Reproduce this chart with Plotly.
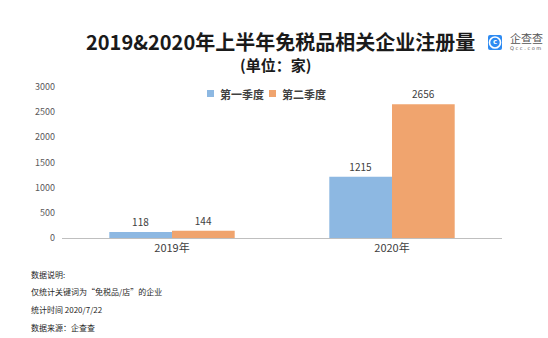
import plotly.graph_objects as go

categories = ["2019年", "2020年"]
q1_values = [118, 1215]
q2_values = [144, 2656]
series_names = ["第一季度", "第二季度"]
y_ticks = [0, 500, 1000, 1500, 2000, 2500, 3000]
notes = ["数据说明:", "仅统计关键词为“免税品/店”的企业", "统计时间 2020/7/22", "数据来源：企查查"]

BLUE = "#8DB8E2"
ORANGE = "#F0A46E"
FONT = "Noto Sans CJK SC"

# plot area in pixels
L, R, T, B = 62, 502, 87, 238


def px_x(x):
    return (x - L) / (R - L)


def px_y(y):
    return (B - y) / (B - T)


fig = go.Figure()
colors = [BLUE, ORANGE]
for name, vals, col in zip(series_names, [q1_values, q2_values], colors):
    fig.add_trace(go.Bar(
        x=categories, y=vals, name=name, marker=dict(color=col, line=dict(width=0)),
        text=[str(v) for v in vals], textposition="outside", showlegend=False,
        textfont=dict(size=10, color="#404040", family=FONT), cliponaxis=False,
    ))

fig.update_layout(
    width=548, height=338,
    margin=dict(l=L, r=548 - R, t=T, b=338 - B),
    paper_bgcolor="white", plot_bgcolor="white",
    barmode="group", bargap=0.43, bargroupgap=0,
    font=dict(family=FONT, color="#404040"),
    xaxis=dict(showline=True, linecolor="#BFBFBF", linewidth=1, ticks="",
               tickfont=dict(size=11, color="#404040", family=FONT), showgrid=False),
    yaxis=dict(range=[0, 3000], tickvals=y_ticks, showgrid=False, zeroline=False,
               showline=False, ticks="", tickfont=dict(size=9, color="#595959", family=FONT),
               ticklabelstandoff=6),
)


def label(text, x, y, size, color, xanchor="center", family=FONT):
    fig.add_annotation(text=text, xref="paper", yref="paper", x=px_x(x), y=px_y(y),
                       xanchor=xanchor, yanchor="middle", showarrow=False,
                       font=dict(size=size, color=color, family=family))


def rect(x0, y0, x1, y1, color):
    fig.add_shape(type="rect", xref="paper", yref="paper",
                  x0=px_x(x0), x1=px_x(x1), y0=px_y(y1), y1=px_y(y0),
                  fillcolor=color, line=dict(width=0))


# Title and unit
label("<b>2019&2020年上半年免税品相关企业注册量</b>", 280, 41, 20, "#1a1a1a")
label("<b>(单位：家)</b>", 275, 64, 15, "#1a1a1a")

# Series key
for i, (name, col) in enumerate(zip(series_names, colors)):
    sx = 207 + i * 62
    rect(sx, 90, sx + 7, 97, col)
    label("<b>%s</b>" % name, sx + 11, 93.5, 11, "#404040", xanchor="left")

# Logo
fig.add_shape(type="path", xref="paper", yref="paper",
              path="M {a},{b} L {c},{b} Q {d},{b} {d},{e} L {d},{f} Q {d},{g} {c},{g} "
                   "L {a},{g} Q {h},{g} {h},{f} L {h},{e} Q {h},{b} {a},{b} Z".format(
                       a=px_x(490), c=px_x(500), d=px_x(502), h=px_x(488),
                       b=px_y(35), e=px_y(37), f=px_y(48), g=px_y(50)),
              fillcolor="#2E8BF2", line=dict(width=0))
fig.add_shape(type="circle", xref="paper", yref="paper",
              x0=px_x(489.5), x1=px_x(500.5), y0=px_y(48), y1=px_y(37),
              fillcolor="rgba(0,0,0,0)", line=dict(color="white", width=1.6))
label("<b>c</b>", 495, 42, 7, "white", family="DejaVu Sans")
label("企查查", 508, 38, 11, "#555555", xanchor="left")
label("Q c c . c o m", 508, 47.5, 5, "#555555", xanchor="left", family="DejaVu Sans")

# Footnotes
for i, line in enumerate(notes):
    label(line, 29, 274 + i * 17.7, 8, "#262626", xanchor="left")

fig.write_html("out.html")
